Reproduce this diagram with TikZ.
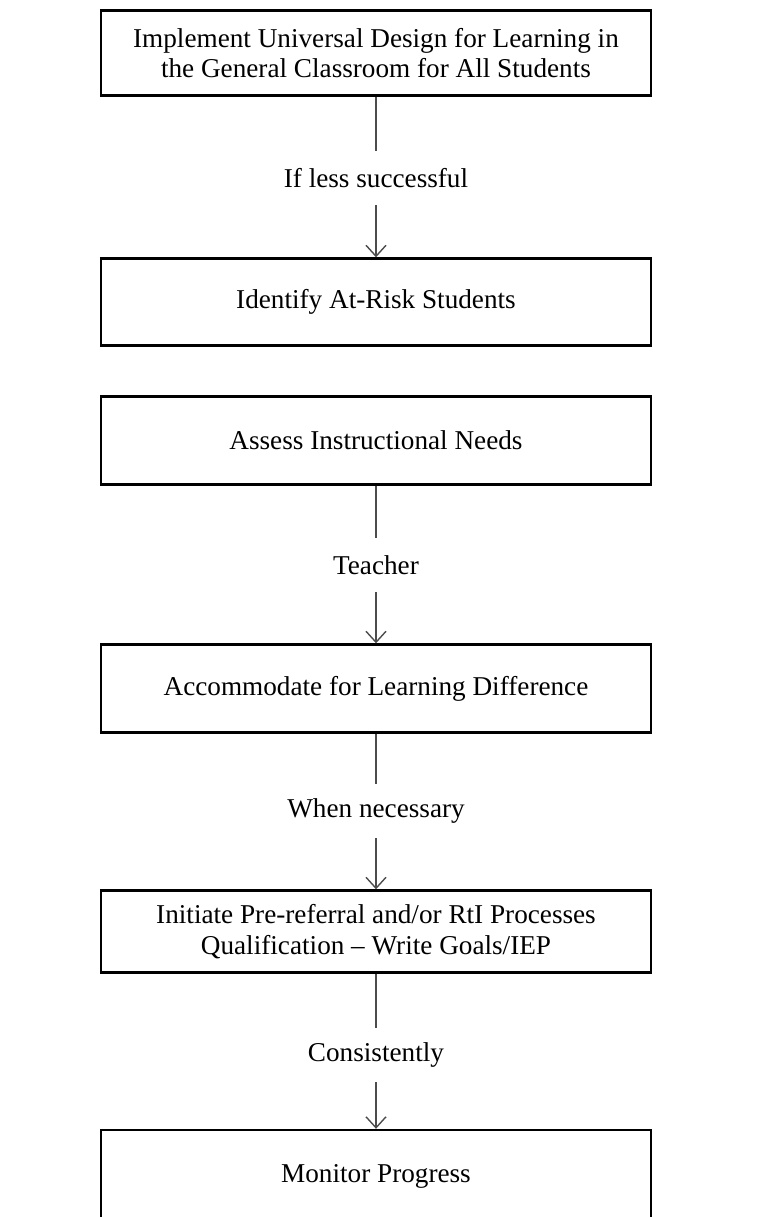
\documentclass[tikz,border=0pt]{standalone}
\usepackage{fontspec}
\setmainfont{Liberation Serif}
\usetikzlibrary{arrows.meta}

\begin{document}
\begin{tikzpicture}[x=0.5pt, y=-0.5pt,
  box/.style={draw, line width=1.2pt, minimum width=275pt, inner sep=0pt,
    align=center, font=\fontsize{13.6}{15.3}\selectfont},
  cond/.style={inner sep=0pt, minimum height=27pt,
    font=\fontsize{13.6}{15.3}\selectfont},
  link/.style={line width=0.7pt, black!70},
  flow/.style={link, -{Straight Barb[length=5.5pt, width=10pt]}}]
  \useasboundingbox (0,0) rectangle (775,1217);

  % boxes, centres in pixels of the page
  \node[box, minimum height=42.5pt] (udl)     at (376,53)    {Implement Universal Design for Learning in\\the General Classroom for All Students};
  \node[box, minimum height=43.5pt] (risk)    at (376,302)   {Identify At-Risk Students};
  \node[box, minimum height=44pt]   (assess)  at (376,440.5) {Assess Instructional Needs};
  \node[box, minimum height=44pt]   (accom)   at (376,688.5) {Accommodate for Learning Difference};
  \node[box, minimum height=41pt]   (prerefer) at (376,931.5) {Initiate Pre-referral and/or RtI Processes\\Qualification -- Write Goals/IEP};
  \node[box, minimum height=46pt]   (monitor) at (376,1176)  {Monitor Progress};

  % conditions on the links
  \node[cond] (less)    at (376,178)  {If less successful};
  \node[cond] (teacher) at (376,565)  {Teacher};
  \node[cond] (needed)  at (376,811)  {When necessary};
  \node[cond] (always)  at (376,1055) {Consistently};

  \draw[link] (udl) -- (less);
  \draw[flow] (less) -- (risk);
  \draw[link] (assess) -- (teacher);
  \draw[flow] (teacher) -- (accom);
  \draw[link] (accom) -- (needed);
  \draw[flow] (needed) -- (prerefer);
  \draw[link] (prerefer) -- (always);
  \draw[flow] (always) -- (monitor);
\end{tikzpicture}
\end{document}
